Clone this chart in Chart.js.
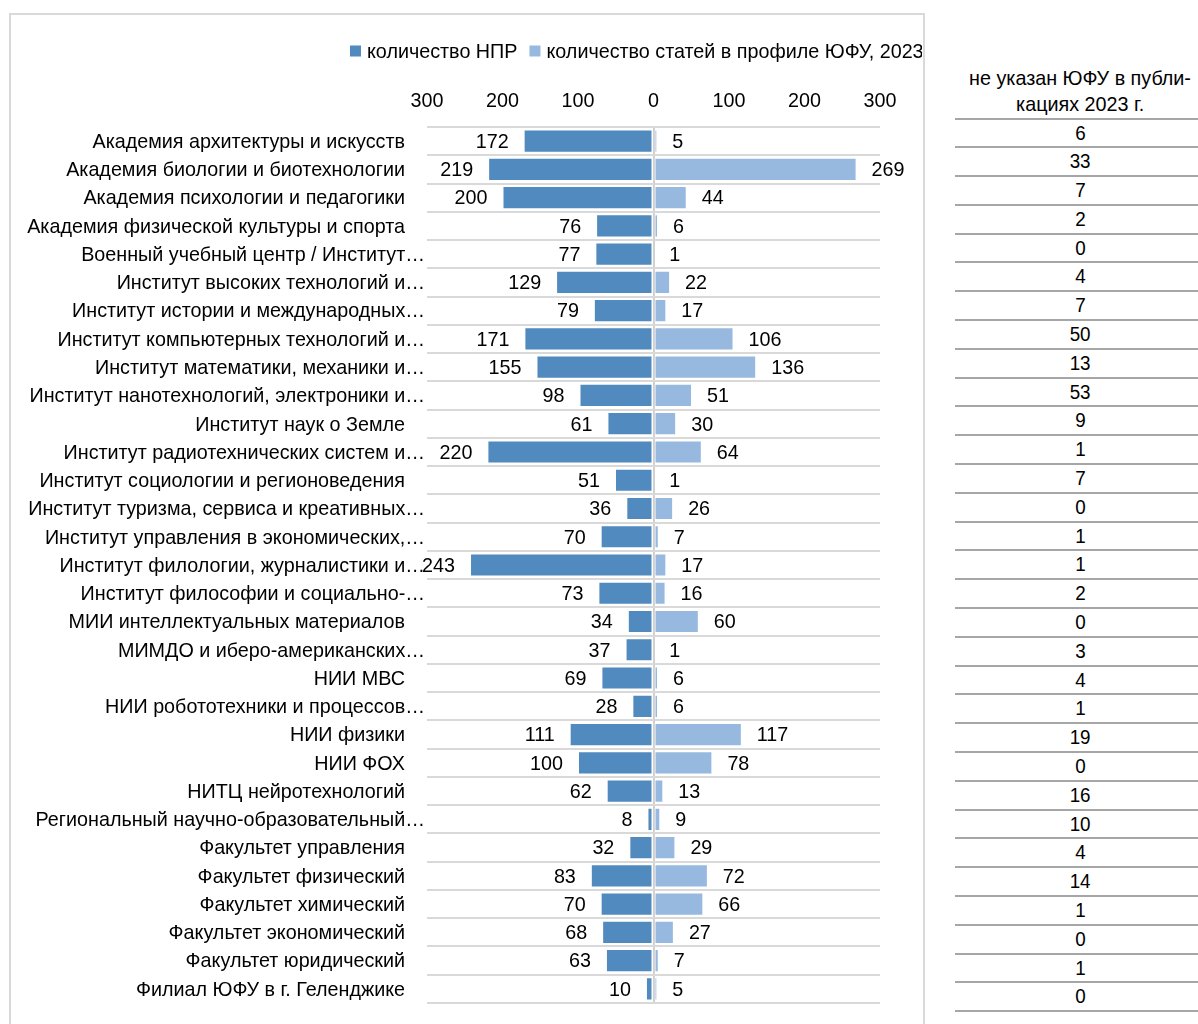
<!DOCTYPE html>
<html><head><meta charset="utf-8">
<script src="https://cdn.jsdelivr.net/npm/chart.js@4.4.1/dist/chart.umd.min.js"></script>
<style>
html,body{margin:0;padding:0;background:#fff;overflow:hidden;width:1198px;height:1024px;}
body{position:relative;font-family:'Liberation Sans',Arial,sans-serif;color:#000;}
#frame{position:absolute;left:9px;top:13px;width:916px;height:1040px;border:2px solid #d9d9d9;box-sizing:border-box;}
#wrap{position:absolute;left:12px;top:16px;width:910px;height:1008px;}
#thead{position:absolute;left:950px;top:65px;width:260px;text-align:center;font-size:21px;line-height:26px;}
.nar{display:inline-block;transform:scaleX(0.94);transform-origin:50% 50%;white-space:nowrap;}
#tbody{position:absolute;left:955px;top:117.5px;width:243px;border-top:2px solid #a6a6a6;}
#tbody div{height:28.8px;box-sizing:border-box;border-bottom:2px solid #a6a6a6;text-align:center;font-size:20px;line-height:26.8px;padding-left:8px;}
</style></head>
<body>
<div id="frame"></div>
<div id="wrap"><canvas id="c" width="910" height="1008"></canvas></div>
<div id="thead"><span class="nar">не указан ЮФУ в публи-</span><br><span class="nar">кациях 2023 г.</span></div>
<div id="tbody"></div>
<script>
const categories = [
  'Академия архитектуры и искусств',
  'Академия биологии и биотехнологии',
  'Академия психологии и педагогики',
  'Академия физической культуры и спорта',
  'Военный учебный центр / Институт…',
  'Институт высоких технологий и…',
  'Институт истории и международных…',
  'Институт компьютерных технологий и…',
  'Институт математики, механики и…',
  'Институт нанотехнологий, электроники и…',
  'Институт наук о Земле',
  'Институт радиотехнических систем и…',
  'Институт социологии и регионоведения',
  'Институт туризма, сервиса и креативных…',
  'Институт управления в экономических,…',
  'Институт филологии, журналистики и…',
  'Институт философии и социально-…',
  'МИИ интеллектуальных материалов',
  'МИМДО и иберо-американских…',
  'НИИ МВС',
  'НИИ робототехники и процессов…',
  'НИИ физики',
  'НИИ ФОХ',
  'НИТЦ нейротехнологий',
  'Региональный научно-образовательный…',
  'Факультет управления',
  'Факультет физический',
  'Факультет химический',
  'Факультет экономический',
  'Факультет юридический',
  'Филиал ЮФУ в г. Геленджике'
];
const nprCount = [172,219,200,76,77,129,79,171,155,98,61,220,51,36,70,243,73,34,37,69,28,111,100,62,8,32,83,70,68,63,10];
const articlesCount = [5,269,44,6,1,22,17,106,136,51,30,64,1,26,7,17,16,60,1,6,6,117,78,13,9,29,72,66,27,7,5];
const unspecifiedCount = [6,33,7,2,0,4,7,50,13,53,9,1,7,0,1,1,2,0,3,4,1,19,0,16,10,4,14,1,0,1,0];
const xTicks = [-300,-200,-100,0,100,200,300];
const seriesNames = ['количество НПР','количество статей в профиле ЮФУ, 2023'];
const seriesColors = ['#508abe','#97b9e0'];

const tb = document.getElementById('tbody');
unspecifiedCount.forEach(v => {
  const d = document.createElement('div');
  const s = document.createElement('span'); s.className = 'nar'; s.textContent = v;
  d.appendChild(s); tb.appendChild(d);
});

const FONT = "21px 'Liberation Sans',Arial,sans-serif";
const SX = 0.94; // condensed face emulation

function nText(ctx, t, x, y, align) {
  ctx.save();
  ctx.translate(x, y);
  ctx.scale(SX, 1);
  ctx.textAlign = align;
  ctx.fillText(t, 0, 0);
  ctx.restore();
}

const customDraw = {
  id: 'customDraw',
  afterDatasetsDraw(chart) {
    const ctx = chart.ctx, xs = chart.scales.x, ys = chart.scales.y, ca = chart.chartArea;
    ctx.save();
    ctx.font = FONT;
    ctx.fillStyle = '#000';
    ctx.textBaseline = 'middle';
    // x tick labels
    xTicks.forEach(v => nText(ctx, String(Math.abs(v)), xs.getPixelForValue(v), 85, 'center'));
    categories.forEach((c, i) => {
      const py = ys.getPixelForValue(i) + 1;
      nText(ctx, c, ca.left - (c.endsWith('…') ? 2 : 22), py, 'right');
      nText(ctx, String(nprCount[i]), xs.getPixelForValue(-nprCount[i]) - 15, py, 'right');
      nText(ctx, String(articlesCount[i]), xs.getPixelForValue(articlesCount[i]) + 15, py, 'left');
    });
    // legend
    let lx = 338;
    const ly = 35;
    chart.data.datasets.forEach((ds) => {
      ctx.fillStyle = ds.backgroundColor;
      ctx.fillRect(lx, ly - 5.5, 11, 11);
      lx += 17;
      ctx.fillStyle = '#000';
      nText(ctx, ds.label, lx, ly + 1, 'left');
      lx += ctx.measureText(ds.label).width * SX + 12;
    });
    ctx.restore();
  }
};

new Chart(document.getElementById('c'), {
  type: 'bar',
  data: {
    labels: categories,
    datasets: [
      { label: seriesNames[0], data: nprCount.map(v => -v), backgroundColor: seriesColors[0], borderColor: 'rgba(255,255,255,0.55)', borderWidth: 1, borderSkipped: false, stack: 's' },
      { label: seriesNames[1], data: articlesCount, backgroundColor: seriesColors[1], borderColor: 'rgba(255,255,255,0.55)', borderWidth: 1, borderSkipped: false, stack: 's' }
    ]
  },
  options: {
    indexAxis: 'y',
    responsive: false,
    animation: false,
    layout: { padding: { top: 0, left: 0, right: 42, bottom: 21 } },
    datasets: { bar: { barPercentage: 0.82, categoryPercentage: 1 } },
    plugins: { legend: { display: false }, tooltip: { enabled: false } },
    scales: {
      x: {
        position: 'top', min: -300, max: 300, stacked: true,
        afterBuildTicks: s => { s.ticks = xTicks.map(v => ({ value: v })); },
        afterFit: s => { s.height = 111; },
        ticks: { display: false },
        grid: { drawTicks: false, color: ctx => (ctx.tick && ctx.tick.value === 0) ? '#d0d0d0' : 'rgba(0,0,0,0)', lineWidth: 2 },
        border: { display: false }
      },
      y: {
        stacked: true,
        afterFit: s => { s.width = 415; },
        ticks: { display: false },
        grid: { drawTicks: false, color: '#d9d9d9', lineWidth: 2, offset: true },
        border: { display: false }
      }
    }
  },
  plugins: [customDraw]
});
</script>
</body></html>
